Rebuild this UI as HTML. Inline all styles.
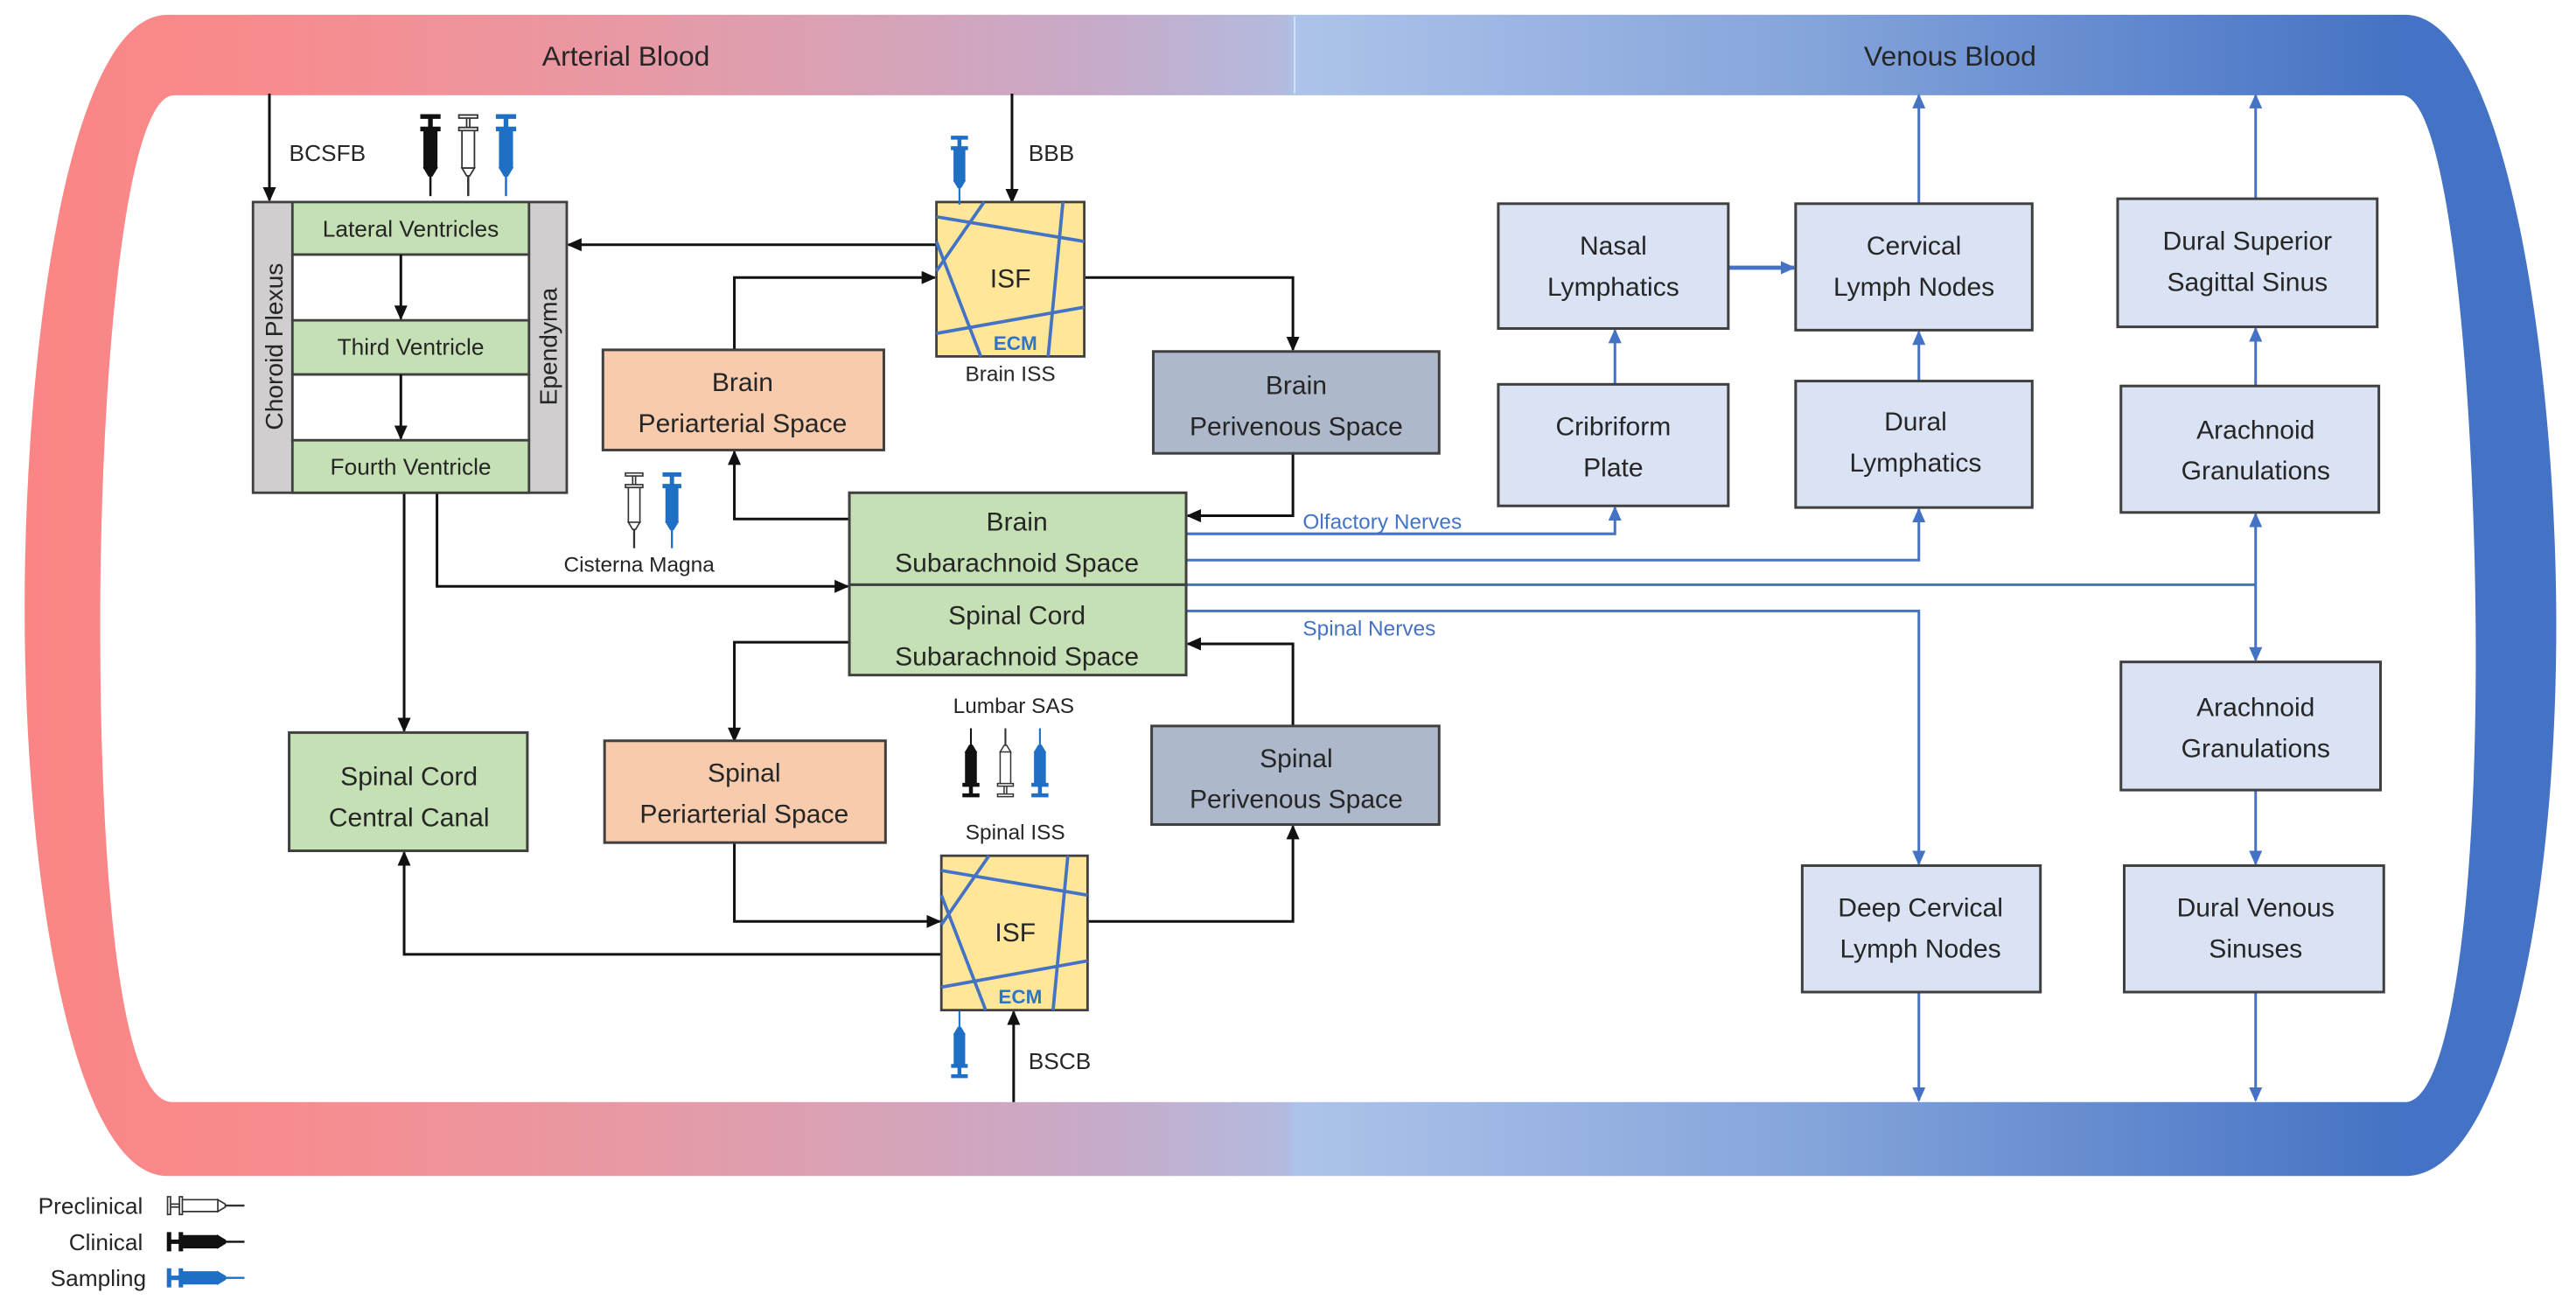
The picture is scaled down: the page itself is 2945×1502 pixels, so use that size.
<!DOCTYPE html>
<html><head><meta charset="utf-8"><style>
html,body{margin:0;padding:0;background:#fff;}
svg{display:block;}
text{font-family:"Liberation Sans",sans-serif;fill:#262626;}
</style></head><body>
<svg width="2945" height="1502" viewBox="0 0 1568 800" preserveAspectRatio="none" xmlns="http://www.w3.org/2000/svg">
<defs>
<linearGradient id="g" gradientUnits="userSpaceOnUse" x1="15" y1="0" x2="1556" y2="0">
<stop offset="0" stop-color="#fb8585"/>
<stop offset="0.08" stop-color="#f98a8b"/>
<stop offset="0.25" stop-color="#e69aa6"/>
<stop offset="0.42" stop-color="#c8aac8"/>
<stop offset="0.498" stop-color="#b3bade"/>
<stop offset="0.502" stop-color="#adc3ea"/>
<stop offset="0.7" stop-color="#86a5db"/>
<stop offset="0.94" stop-color="#4472c4"/>
<stop offset="1" stop-color="#4472c4"/>
</linearGradient>
<marker id="ak" markerUnits="userSpaceOnUse" markerWidth="9" markerHeight="8" refX="8" refY="4" orient="auto"><path d="M0,0 L9,4 L0,8 Z" fill="#111"/></marker>
<marker id="ab" markerUnits="userSpaceOnUse" markerWidth="9" markerHeight="8" refX="8" refY="4" orient="auto"><path d="M0,0 L9,4 L0,8 Z" fill="#4472c4"/></marker>
<symbol id="syr" overflow="visible">
<path d="M-6,0 H6 V2 H-6 Z M-1,2 H1 V8 H-1 Z M-6,8 H6 V10 H-6 Z M-4,10 H4 V34 H-4 Z M-4,34 L4,34 L1,39 L-1,39 Z"/>
<line x1="0" y1="39" x2="0" y2="52" stroke-width="1.4"/>
</symbol>
</defs>

<!-- blood band -->
<path fill="url(#g)" fill-rule="evenodd" d="M102,9 L1464,9 C1525,9 1556,220 1556,380 C1556,560 1522,716 1464,716 L102,716 C45,716 15,540 15,370 C15,210 42,9 102,9 Z M106,58 L1462,58 C1492,58 1507,250 1507,400 C1507,560 1490,671 1464,671 L105,671 C74,671 61,540 61,380 C61,230 76,58 106,58 Z"/>
<line x1="788" y1="10" x2="788" y2="57" stroke="#ffffff" stroke-opacity="0.5" stroke-width="1"/>
<text x="381" y="40" font-size="17" text-anchor="middle">Arterial Blood</text>
<text x="1187" y="40" font-size="17" text-anchor="middle">Venous Blood</text>

<g stroke="#111" stroke-width="1.6" fill="none">
<line x1="164" y1="57" x2="164" y2="122" marker-end="url(#ak)"/>
<line x1="616" y1="57" x2="616" y2="123" marker-end="url(#ak)"/>
<line x1="570" y1="149" x2="346" y2="149" marker-end="url(#ak)"/>
<polyline points="447,213 447,169 569,169" marker-end="url(#ak)"/>
<polyline points="660,169 787,169 787,213" marker-end="url(#ak)"/>
<polyline points="787,276 787,314 723,314" marker-end="url(#ak)"/>
<polyline points="517,316 447,316 447,275" marker-end="url(#ak)"/>
<polyline points="266,300 266,357 516,357" marker-end="url(#ak)"/>
<line x1="246" y1="300" x2="246" y2="445" marker-end="url(#ak)"/>
<polyline points="517,391 447,391 447,451" marker-end="url(#ak)"/>
<polyline points="787,442 787,392 723,392" marker-end="url(#ak)"/>
<polyline points="447,513 447,561 572,561" marker-end="url(#ak)"/>
<polyline points="662,561 787,561 787,503" marker-end="url(#ak)"/>
<polyline points="573,581 246,581 246,519" marker-end="url(#ak)"/>
<line x1="617" y1="671" x2="617" y2="616" marker-end="url(#ak)"/>
</g>

<g stroke="#4472c4" stroke-width="1.6" fill="none">
<polyline points="722,325 983,325 983,309" marker-end="url(#ab)"/>
<polyline points="722,341 1168,341 1168,310" marker-end="url(#ab)"/>
<polyline points="722,356 1373,356"/>
<line x1="1373" y1="356" x2="1373" y2="313" marker-end="url(#ab)"/>
<line x1="1373" y1="356" x2="1373" y2="402" marker-end="url(#ab)"/>
<polyline points="722,372 1168,372 1168,526" marker-end="url(#ab)"/>
<line x1="1052" y1="163" x2="1092" y2="163" stroke-width="2.5" marker-end="url(#ab)"/>
<line x1="983" y1="234" x2="983" y2="201" marker-end="url(#ab)"/>
<line x1="1168" y1="232" x2="1168" y2="202" marker-end="url(#ab)"/>
<line x1="1168" y1="124" x2="1168" y2="58" marker-end="url(#ab)"/>
<line x1="1373" y1="235" x2="1373" y2="200" marker-end="url(#ab)"/>
<line x1="1373" y1="121" x2="1373" y2="58" marker-end="url(#ab)"/>
<line x1="1373" y1="481" x2="1373" y2="526" marker-end="url(#ab)"/>
<line x1="1168" y1="604" x2="1168" y2="670" marker-end="url(#ab)"/>
<line x1="1373" y1="604" x2="1373" y2="670" marker-end="url(#ab)"/>
</g>
<text x="793" y="322" font-size="13" style="fill:#4472c4">Olfactory Nerves</text>
<text x="793" y="387" font-size="13" style="fill:#4472c4">Spinal Nerves</text>

<g stroke="#404040" stroke-width="1.5">
<rect x="154" y="123" width="191" height="177" fill="#d0cece"/>
<rect x="178" y="123" width="144" height="32" fill="#c5e0b4"/>
<rect x="178" y="195" width="144" height="33" fill="#c5e0b4"/>
<rect x="178" y="268" width="144" height="32" fill="#c5e0b4"/>
<rect x="178" y="155" width="144" height="40" fill="#ffffff"/>
<rect x="178" y="228" width="144" height="40" fill="#ffffff"/>
</g>
<g stroke="#111" stroke-width="1.6" fill="none">
<line x1="244" y1="155" x2="244" y2="194" marker-end="url(#ak)"/>
<line x1="244" y1="228" x2="244" y2="267" marker-end="url(#ak)"/>
</g>
<g font-size="14" text-anchor="middle">
<text x="250" y="144">Lateral Ventricles</text>
<text x="250" y="216">Third Ventricle</text>
<text x="250" y="289">Fourth Ventricle</text>
</g>
<text transform="translate(172,211) rotate(-90)" font-size="15" text-anchor="middle">Choroid Plexus</text>
<text transform="translate(339,211) rotate(-90)" font-size="15" text-anchor="middle">Ependyma</text>

<g stroke="#404040" stroke-width="1.6">
<rect x="367" y="213" width="171" height="61" fill="#f8cbad"/>
<rect x="702" y="214" width="174" height="62" fill="#adb9ca"/>
<rect x="517" y="300" width="205" height="56" fill="#c5e0b4"/>
<rect x="517" y="356" width="205" height="55" fill="#c5e0b4"/>
<rect x="176" y="446" width="145" height="72" fill="#c5e0b4"/>
<rect x="368" y="451" width="171" height="62" fill="#f8cbad"/>
<rect x="701" y="442" width="175" height="60" fill="#adb9ca"/>
<rect x="912" y="124" width="140" height="76" fill="#dae3f3"/>
<rect x="1093" y="124" width="144" height="77" fill="#dae3f3"/>
<rect x="1289" y="121" width="158" height="78" fill="#dae3f3"/>
<rect x="912" y="234" width="140" height="74" fill="#dae3f3"/>
<rect x="1093" y="232" width="144" height="77" fill="#dae3f3"/>
<rect x="1291" y="235" width="157" height="77" fill="#dae3f3"/>
<rect x="1291" y="403" width="158" height="78" fill="#dae3f3"/>
<rect x="1097" y="527" width="145" height="77" fill="#dae3f3"/>
<rect x="1293" y="527" width="158" height="77" fill="#dae3f3"/>
</g>
<g font-size="16" text-anchor="middle">
<text x="452" y="238">Brain</text><text x="452" y="263">Periarterial Space</text>
<text x="789" y="240">Brain</text><text x="789" y="265">Perivenous Space</text>
<text x="619" y="323">Brain</text><text x="619" y="348">Subarachnoid Space</text>
<text x="619" y="380">Spinal Cord</text><text x="619" y="405">Subarachnoid Space</text>
<text x="249" y="478">Spinal Cord</text><text x="249" y="503">Central Canal</text>
<text x="453" y="476">Spinal</text><text x="453" y="501">Periarterial Space</text>
<text x="789" y="467">Spinal</text><text x="789" y="492">Perivenous Space</text>
<text x="982" y="155">Nasal</text><text x="982" y="180">Lymphatics</text>
<text x="1165" y="155">Cervical</text><text x="1165" y="180">Lymph Nodes</text>
<text x="1368" y="152">Dural Superior</text><text x="1368" y="177">Sagittal Sinus</text>
<text x="982" y="265">Cribriform</text><text x="982" y="290">Plate</text>
<text x="1166" y="262">Dural</text><text x="1166" y="287">Lymphatics</text>
<text x="1373" y="267">Arachnoid</text><text x="1373" y="292">Granulations</text>
<text x="1373" y="436">Arachnoid</text><text x="1373" y="461">Granulations</text>
<text x="1169" y="558">Deep Cervical</text><text x="1169" y="583">Lymph Nodes</text>
<text x="1373" y="558">Dural Venous</text><text x="1373" y="583">Sinuses</text>
</g>

<g transform="translate(570,123)">
<rect x="0" y="0" width="90" height="94" fill="#ffe699" stroke="#404040" stroke-width="1.5"/>
<g stroke="#4472c4" stroke-width="2">
<line x1="0" y1="9" x2="90" y2="24"/>
<line x1="29" y1="0" x2="0" y2="42"/>
<line x1="0" y1="24" x2="27" y2="94"/>
<line x1="77" y1="0" x2="68" y2="94"/>
<line x1="0" y1="80" x2="90" y2="64"/>
</g>
<text x="45" y="52" font-size="16" text-anchor="middle">ISF</text>
<text x="48" y="90" font-size="12" text-anchor="middle" font-weight="bold" style="fill:#2e75c8">ECM</text>
</g>
<g transform="translate(573,521)">
<rect x="0" y="0" width="89" height="94" fill="#ffe699" stroke="#404040" stroke-width="1.5"/>
<g stroke="#4472c4" stroke-width="2">
<line x1="0" y1="9" x2="89" y2="24"/>
<line x1="29" y1="0" x2="0" y2="42"/>
<line x1="0" y1="24" x2="27" y2="94"/>
<line x1="77" y1="0" x2="68" y2="94"/>
<line x1="0" y1="80" x2="89" y2="64"/>
</g>
<text x="45" y="52" font-size="16" text-anchor="middle">ISF</text>
<text x="48" y="90" font-size="12" text-anchor="middle" font-weight="bold" style="fill:#2e75c8">ECM</text>
</g>

<g font-size="14">
<text x="176" y="98">BCSFB</text>
<text x="626" y="98">BBB</text>
<text x="626" y="651">BSCB</text>
<text x="615" y="232" font-size="13" text-anchor="middle">Brain ISS</text>
<text x="389" y="348" font-size="13" text-anchor="middle">Cisterna Magna</text>
<text x="617" y="434" font-size="13" text-anchor="middle">Lumbar SAS</text>
<text x="618" y="511" font-size="13" text-anchor="middle">Spinal ISS</text>
</g>

<use href="#syr" transform="translate(262,70) scale(0.95)" fill="#111" stroke="#111" stroke-width="1"/>
<use href="#syr" transform="translate(285,70) scale(0.95)" fill="#fff" stroke="#333" stroke-width="1"/>
<use href="#syr" transform="translate(308,70) scale(0.95)" fill="#1f6fc5" stroke="#1f6fc5" stroke-width="1"/>
<use href="#syr" transform="translate(584,83) scale(0.8)" fill="#1f6fc5" stroke="#1f6fc5" stroke-width="1"/>
<use href="#syr" transform="translate(386,288) scale(0.88)" fill="#fff" stroke="#333" stroke-width="1"/>
<use href="#syr" transform="translate(409,288) scale(0.88)" fill="#1f6fc5" stroke="#1f6fc5" stroke-width="1"/>
<use href="#syr" transform="translate(591,485) scale(0.8) rotate(180)" fill="#111" stroke="#111" stroke-width="1"/>
<use href="#syr" transform="translate(612,485) scale(0.8) rotate(180)" fill="#fff" stroke="#333" stroke-width="1"/>
<use href="#syr" transform="translate(633,485) scale(0.8) rotate(180)" fill="#1f6fc5" stroke="#1f6fc5" stroke-width="1"/>
<use href="#syr" transform="translate(584,656) scale(0.78) rotate(180)" fill="#1f6fc5" stroke="#1f6fc5" stroke-width="1"/>

<g font-size="14" text-anchor="end">
<text x="87" y="739">Preclinical</text>
<text x="87" y="761">Clinical</text>
<text x="89" y="783">Sampling</text>
</g>
<use href="#syr" transform="translate(102,734) scale(0.9) rotate(-90)" fill="#fff" stroke="#333" stroke-width="1"/>
<use href="#syr" transform="translate(102,756) scale(0.9) rotate(-90)" fill="#111" stroke="#111" stroke-width="1"/>
<use href="#syr" transform="translate(102,778) scale(0.9) rotate(-90)" fill="#1f6fc5" stroke="#1f6fc5" stroke-width="1"/>
</svg>
</body></html>
